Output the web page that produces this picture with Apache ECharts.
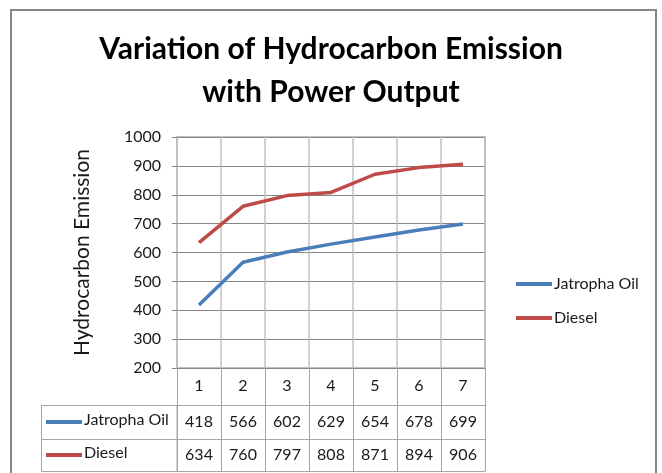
<!DOCTYPE html>
<html>
<head>
<meta charset="utf-8">
<script src="https://cdn.jsdelivr.net/npm/echarts@6/dist/echarts.min.js"></script>
<style>
  html, body { margin: 0; padding: 0; background: #fff; }
  #chart { width: 662px; height: 473px; }
</style>
</head>
<body>
<div id="chart"></div>
<script>
// power output steps
const categories = ["1", "2", "3", "4", "5", "6", "7"];
const jatropha = [418, 566, 602, 629, 654, 678, 699];
const diesel = [634, 760, 797, 808, 871, 894, 906];
const seriesNames = ["Jatropha Oil", "Diesel"];
const colors = ["#4a7ebb", "#be4b48"];

const FONT = "Lato";
const TXT = "#1a1a1a";
const TABLE_LINE = "#a6a6a6";

const chart = echarts.init(document.getElementById("chart"));

// one category axis per table row, the row values shown as its labels
function tableAxis(values, offset, tickLen, margin) {
  return {
    type: "category",
    data: values.map(String),
    position: "bottom",
    offset: offset,
    boundaryGap: true,
    axisLine: { show: true, lineStyle: { color: TABLE_LINE, width: 1 } },
    axisTick: { show: true, interval: 0, length: tickLen, lineStyle: { color: TABLE_LINE } },
    axisLabel: { interval: 0, margin: margin, verticalAlign: "middle", fontFamily: FONT, fontSize: 16, color: TXT },
    splitLine: { show: false }
  };
}

chart.setOption({
  animation: false,
  backgroundColor: "#fff",
  title: {
    text: "Variation of Hydrocarbon Emission\nwith Power Output",
    left: "center",
    top: 23,
    textStyle: { fontFamily: FONT, fontWeight: "bold", fontSize: 30, lineHeight: 43, color: "#000" }
  },
  grid: {
    left: 177, right: 177, top: 137, bottom: 105,
    show: true, borderColor: "#c0c0c0", borderWidth: 2
  },
  legend: {
    orient: "vertical",
    left: 511,
    top: 271,
    itemWidth: 36,
    itemHeight: 4,
    itemGap: 18,
    icon: "rect",
    textStyle: { fontFamily: FONT, fontSize: 16, color: TXT, padding: [0, 0, 0, -3] },
    data: seriesNames
  },
  xAxis: [
    {
      type: "category",
      data: categories,
      position: "bottom",
      boundaryGap: true,
      axisLine: { show: true, lineStyle: { color: "#868686" } },
      axisTick: { show: true, interval: 0, length: 37, lineStyle: { color: TABLE_LINE } },
      axisLabel: { interval: 0, margin: 18, verticalAlign: "middle", fontFamily: FONT, fontSize: 16, color: TXT },
      splitLine: { show: true, interval: 0, lineStyle: { color: "#c0c0c0", width: 1.5 } }
    },
    tableAxis(jatropha, 37, 34, 17),
    tableAxis(diesel, 71, 32, 16),
    {
      type: "category",
      data: categories,
      position: "bottom",
      offset: 103,
      axisLine: { show: true, lineStyle: { color: TABLE_LINE } },
      axisTick: { show: false },
      axisLabel: { show: false },
      splitLine: { show: false }
    }
  ],
  yAxis: {
    type: "value",
    min: 200,
    max: 1000,
    interval: 100,
    name: "Hydrocarbon Emission",
    nameLocation: "middle",
    nameRotate: 90,
    nameGap: 84,
    nameTextStyle: { fontFamily: FONT, fontSize: 21, color: TXT },
    axisLine: { show: false },
    axisTick: { show: true, length: 5, lineStyle: { color: "#868686" } },
    axisLabel: { margin: 16, fontFamily: FONT, fontSize: 16, color: TXT, formatter: (v) => String(v) },
    splitLine: { show: true, lineStyle: { color: "#868686", width: 1 } }
  },
  series: [
    {
      name: seriesNames[0], type: "line", data: jatropha, xAxisIndex: 0,
      symbol: "none", color: colors[0], lineStyle: { width: 3.5, color: colors[0] }
    },
    {
      name: seriesNames[1], type: "line", data: diesel, xAxisIndex: 0,
      symbol: "none", color: colors[1], lineStyle: { width: 3.5, color: colors[1] }
    }
  ],
  graphic: [
    // outer chart border
    { type: "rect", silent: true, shape: { x: 11, y: 10, width: 645, height: 480 },
      style: { fill: null, stroke: "#868686", lineWidth: 2 } },
    // left part of the data table (legend keys column)
    { type: "rect", silent: true, shape: { x: 41.5, y: 405.5, width: 135.5, height: 66 },
      style: { fill: null, stroke: TABLE_LINE, lineWidth: 1 } },
    { type: "line", silent: true, shape: { x1: 41.5, y1: 439.5, x2: 177, y2: 439.5 },
      style: { stroke: TABLE_LINE, lineWidth: 1 } },
    { type: "line", silent: true, shape: { x1: 46, y1: 422, x2: 82, y2: 422 },
      style: { stroke: colors[0], lineWidth: 4 } },
    { type: "text", silent: true, left: 84, top: 412,
      style: { text: seriesNames[0], font: "16px " + FONT, fill: TXT } },
    { type: "line", silent: true, shape: { x1: 46, y1: 455, x2: 82, y2: 455 },
      style: { stroke: colors[1], lineWidth: 4 } },
    { type: "text", silent: true, left: 84, top: 445,
      style: { text: seriesNames[1], font: "16px " + FONT, fill: TXT } }
  ]
});
</script>
</body>
</html>
